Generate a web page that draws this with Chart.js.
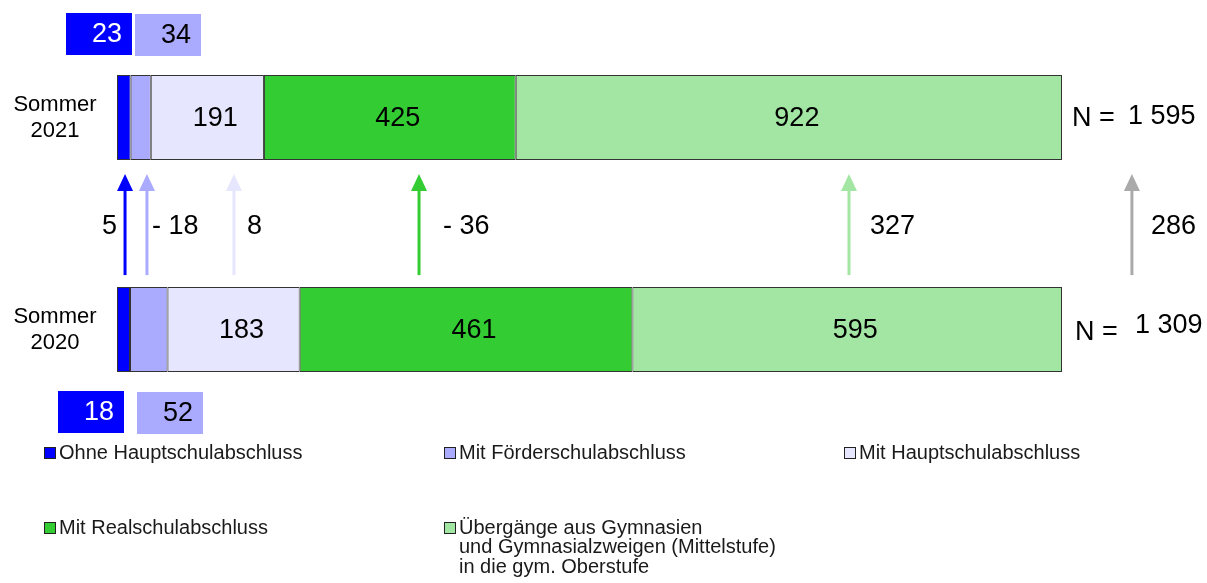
<!DOCTYPE html>
<html>
<head>
<meta charset="utf-8">
<script src="https://cdn.jsdelivr.net/npm/chart.js@4"></script>
<style>
  body { margin: 0; background: #fff; }
  #wrap { width: 1207px; height: 583px; }
</style>
</head>
<body>
<div id="wrap"><canvas id="myChart" width="1207" height="583"></canvas></div>
<script>
// data
const categories = ['Sommer 2021', 'Sommer 2020'];
const seriesNames = [
  'Ohne Hauptschulabschluss',
  'Mit Förderschulabschluss',
  'Mit Hauptschulabschluss',
  'Mit Realschulabschluss',
  'Übergänge aus Gymnasien\nund Gymnasialzweigen (Mittelstufe)\nin die gym. Oberstufe'
];
const values2021 = [23, 34, 191, 425, 922];
const values2020 = [18, 52, 183, 461, 595];
const totals = [1595, 1309];
const totalLabels = ['1 595', '1 309'];
const changes = ['5', '- 18', '8', '- 36', '327', '286'];

// styles
const colors = ['#0000ff', '#aaaaff', '#e6e6ff', '#33cc33', '#a3e6a3'];
const arrowColors = ['#0000ff', '#aaaaff', '#e6e6ff', '#33cc33', '#a3e6a3', '#aaaaaa'];
const FONT = '"Liberation Sans", Arial, sans-serif';

// arrow x positions (in share units of the x scale) and label offsets in px
const arrowAt = [0.0085, 0.0317, 0.1238, 0.3196, 0.7746, 1.074];
const changeOffset = [-8, 5, 13, 24, 21, 19];
const changeAlign = ['right', 'left', 'left', 'left', 'left', 'left'];

const datasets = seriesNames.map((name, i) => ({
  label: name,
  data: [values2021[i] / totals[0], values2020[i] / totals[1]],
  raw: [values2021[i], values2020[i]],
  backgroundColor: colors[i],
  borderColor: '#333333',
  borderWidth: 1,
  borderSkipped: false
}));

const annotations = {
  id: 'annotations',
  afterDatasetsDraw(chart) {
    const ctx = chart.ctx;
    const xs = chart.scales.x;
    const ys = chart.scales.y;
    ctx.save();
    ctx.fillStyle = '#000';
    ctx.textBaseline = 'middle';

    // category labels
    ctx.font = '22px ' + FONT;
    ctx.textAlign = 'center';
    categories.forEach((c, j) => {
      const y = ys.getPixelForValue(j);
      const parts = c.split(' ');
      ctx.fillText(parts[0], 55, y - 13);
      ctx.fillText(parts[1], 55, y + 13);
    });

    // values inside bars (bigger segments)
    ctx.font = '27px ' + FONT;
    chart.data.datasets.forEach((ds, i) => {
      if (i < 2) return;
      const meta = chart.getDatasetMeta(i);
      meta.data.forEach((bar, j) => {
        const cx = (bar.x + bar.base) / 2 + 8;
        ctx.fillText(String(ds.raw[j]), cx, bar.y + 1);
      });
    });

    // callout boxes for the two small segments
    const boxes = [
      { ds: 0, row: 0, x: 66, y: 13 }, { ds: 1, row: 0, x: 135, y: 14 },
      { ds: 0, row: 1, x: 58, y: 391 }, { ds: 1, row: 1, x: 137, y: 392 }
    ];
    boxes.forEach(b => {
      ctx.fillStyle = colors[b.ds];
      ctx.fillRect(b.x, b.y, 66, 42);
      ctx.fillStyle = b.ds === 0 ? '#fff' : '#000';
      ctx.textAlign = 'center';
      ctx.fillText(String(datasets[b.ds].raw[b.row]), b.x + 41, b.y + 22);
    });

    // N labels
    ctx.fillStyle = '#000';
    ctx.textAlign = 'left';
    categories.forEach((c, j) => {
      const y = ys.getPixelForValue(j);
      ctx.fillText('N =', 1072 + j * 3, y + 1 + j * 2);
      ctx.fillText(totalLabels[j], 1128 + j * 7, y - 1 - j * 3);
    });

    // arrows
    const bar1 = chart.getDatasetMeta(0).data[0];
    const bar2 = chart.getDatasetMeta(0).data[1];
    const top = bar1.y + bar1.height / 2 + 14;
    const bottom = bar2.y - bar2.height / 2 - 12;
    const midY = (bar1.y + bar2.y) / 2 + 3;
    arrowAt.forEach((v, k) => {
      const x = xs.getPixelForValue(v);
      ctx.strokeStyle = arrowColors[k];
      ctx.fillStyle = arrowColors[k];
      ctx.lineWidth = 3;
      ctx.beginPath();
      ctx.moveTo(x, bottom);
      ctx.lineTo(x, top + 14);
      ctx.stroke();
      ctx.beginPath();
      ctx.moveTo(x, top);
      ctx.lineTo(x - 8, top + 17);
      ctx.lineTo(x + 8, top + 17);
      ctx.closePath();
      ctx.fill();
      ctx.fillStyle = '#000';
      ctx.textAlign = changeAlign[k];
      ctx.font = '27px ' + FONT;
      ctx.fillText(changes[k], x + changeOffset[k], midY);
    });

    // legend
    const legendPos = [[44, 453], [444, 453], [844, 453], [44, 528], [444, 528]];
    ctx.font = '20px ' + FONT;
    ctx.textAlign = 'left';
    seriesNames.forEach((name, i) => {
      const [lx, ly] = legendPos[i];
      ctx.fillStyle = colors[i];
      ctx.fillRect(lx + 0.5, ly - 5.5, 11, 11);
      ctx.strokeStyle = '#222';
      ctx.lineWidth = 1;
      ctx.strokeRect(lx + 0.5, ly - 5.5, 11, 11);
      ctx.fillStyle = '#1a1a1a';
      name.split('\n').forEach((line, n) => {
        ctx.fillText(line, lx + 15, ly + n * 19.5);
      });
    });
    ctx.restore();
  }
};

const config = {
  type: 'bar',
  data: { labels: categories, datasets },
  options: {
    indexAxis: 'y',
    responsive: false,
    animation: false,
    layout: { padding: { left: 117, right: 145, top: 11.5, bottom: 147.5 } },
    scales: {
      x: { stacked: true, min: 0, max: 1, display: false },
      y: { stacked: true, display: false }
    },
    datasets: { bar: { categoryPercentage: 1, barPercentage: 0.4 } },
    plugins: { legend: { display: false }, tooltip: { enabled: false } }
  },
  plugins: [annotations]
};

const myChart = new Chart(document.getElementById('myChart'), config);
</script>
</body>
</html>
